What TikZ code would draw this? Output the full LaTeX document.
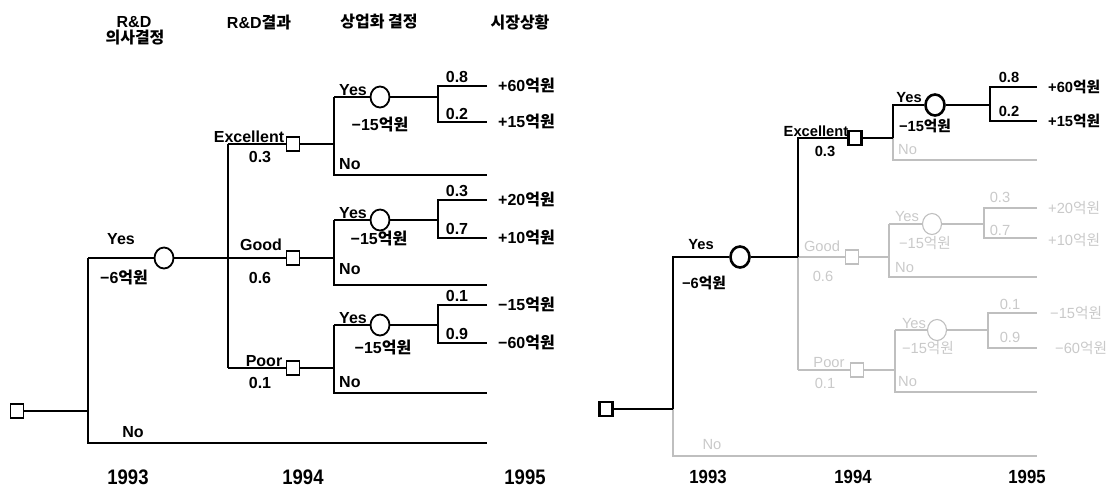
\documentclass[tikz,border=0pt]{standalone}
\usepackage{fontspec}
\setmainfont{Liberation Sans}
\newfontfamily\kr{Noto Sans CJK KR}
\newfontfamily\yrfont{Liberation Sans}[FakeStretch=0.88]
\usetikzlibrary{shapes.geometric}
\newcommand{\K}[1]{{\kr #1}}
\begin{document}
\begin{tikzpicture}[x=1pt,y=-1pt,
  lab/.style={inner sep=0pt, font=\fontsize{16}{18}\selectfont\bfseries},
  rlab/.style={inner sep=0pt, font=\fontsize{14.7}{17}\selectfont\bfseries},
  glab/.style={inner sep=0pt, font=\fontsize{14.7}{17}\selectfont, text=gray!42},
  yr/.style={inner sep=0pt, font=\yrfont\fontsize{21}{23}\selectfont\bfseries},
  ryr/.style={inner sep=0pt, font=\yrfont\fontsize{19}{21}\selectfont\bfseries},
  dsq/.style={draw, rectangle, minimum width=13pt, minimum height=14pt, inner sep=0pt, line width=1.5pt},
  chc/.style={draw, ellipse, minimum width=19pt, minimum height=21pt, inner sep=0pt, line width=1.8pt},
  br/.style={line width=2.1pt},
  hb/.style={line width=2.9pt},
  gb/.style={line width=1.1pt, draw=gray!50},
  hsq/.style={dsq, line width=2.5pt},
  gsq/.style={dsq, line width=1.1pt, draw=gray!50},
  hch/.style={chc, line width=2.6pt},
  gch/.style={chc, line width=1.1pt, draw=gray!50},
]
\useasboundingbox (0,0) rectangle (1108,490);

%%%%%%%%%%%%%%%% LEFT TREE %%%%%%%%%%%%%%%%
% headers
\node[lab] (h1a) at (134,22) {R\&D};
\node[lab] (h1b) at (135,38) {\K{의사결정}};
\node[lab] (h2) at (259,22) {R\&D\K{결과}};
\node[lab] (h3) at (379,22) {\K{상업화 결정}};
\node[lab] (h4) at (520,22) {\K{시장상황}};
% years
\node[yr] (y1) at (128,477) {1993};
\node[yr] (y2) at (303,477) {1994};
\node[yr] (y3) at (525,477) {1995};

% root
\node[dsq] (s0) at (17,411) {};
\coordinate (j0) at (88,411);
\coordinate (j0y) at (88,258);
\coordinate (j0n) at (88,443);
\coordinate (e0n) at (487,443);
\node[chc] (c1) at (164,258) {};
\coordinate (j1) at (228,258);
\coordinate (j1e) at (228,144);
\coordinate (j1p) at (228,368);
\draw[br] (s0) -- (j0);
\draw[br] (j0y) -- (j0n) -- (e0n);
\draw[br] (j0y) -- (c1) -- (j1);
\draw[br] (j1e) -- (j1p);
\node[lab] (lyes0) at (121,239) {Yes};
\node[lab] (lc0) at (124,278) {−6\K{억원}};
\node[lab] (lno0) at (133,432) {No};

% Excellent
\node[dsq] (s1) at (293,144) {};
\coordinate (j2) at (334,144);
\coordinate (j2y) at (334,97);
\coordinate (j2n) at (334,175);
\coordinate (e2n) at (487,175);
\node[chc] (c2) at (380,97) {};
\coordinate (j3) at (438,97);
\coordinate (j3a) at (438,86);
\coordinate (j3b) at (438,122);
\coordinate (e3a) at (487,86);
\coordinate (e3b) at (487,122);
\draw[br] (j1e) -- (s1) -- (j2);
\draw[br] (j2y) -- (j2n) -- (e2n);
\draw[br] (j2y) -- (c2) -- (j3);
\draw[br] (e3a) -- (j3a) -- (j3b) -- (e3b);
\node[lab, anchor=base] (lex) at (249,142) {Excellent};
\node[lab] (pex) at (260,157) {0.3};
\node[lab, anchor=base] (ly1) at (353,95) {Yes};
\node[lab] (lc1) at (380,125) {−15\K{억원}};
\node[lab, anchor=west] (ln1) at (339,164) {No};
\node[lab] (p11) at (457,77) {0.8};
\node[lab] (p12) at (457,114) {0.2};
\node[lab, anchor=west] (o11) at (498,86) {+60\K{억원}};
\node[lab, anchor=west] (o12) at (498,122) {+15\K{억원}};

% Good
\node[dsq] (s2) at (293,258) {};
\coordinate (j4) at (334,258);
\coordinate (j4y) at (334,220);
\coordinate (j4n) at (334,285);
\coordinate (e4n) at (487,285);
\node[chc] (c3) at (380,220) {};
\coordinate (j5) at (438,220);
\coordinate (j5a) at (438,200);
\coordinate (j5b) at (438,238);
\coordinate (e5a) at (487,200);
\coordinate (e5b) at (487,238);
\draw[br] (j1) -- (s2) -- (j4);
\draw[br] (j4y) -- (j4n) -- (e4n);
\draw[br] (j4y) -- (c3) -- (j5);
\draw[br] (e5a) -- (j5a) -- (j5b) -- (e5b);
\node[lab] (lgd) at (261,245) {Good};
\node[lab] (pgd) at (260,278) {0.6};
\node[lab, anchor=base] (ly2) at (353,218) {Yes};
\node[lab] (lc2) at (379,239) {−15\K{억원}};
\node[lab, anchor=west] (ln2) at (339,269) {No};
\node[lab] (p21) at (457,191) {0.3};
\node[lab] (p22) at (457,229) {0.7};
\node[lab, anchor=west] (o21) at (498,200) {+20\K{억원}};
\node[lab, anchor=west] (o22) at (498,238) {+10\K{억원}};

% Poor
\node[dsq] (s3) at (293,368) {};
\coordinate (j6) at (334,368);
\coordinate (j6y) at (334,325);
\coordinate (j6n) at (334,393);
\coordinate (e6n) at (487,393);
\node[chc] (c4) at (380,325) {};
\coordinate (j7) at (438,325);
\coordinate (j7a) at (438,305);
\coordinate (j7b) at (438,343);
\coordinate (e7a) at (487,305);
\coordinate (e7b) at (487,343);
\draw[br] (j1p) -- (s3) -- (j6);
\draw[br] (j6y) -- (j6n) -- (e6n);
\draw[br] (j6y) -- (c4) -- (j7);
\draw[br] (e7a) -- (j7a) -- (j7b) -- (e7b);
\node[lab, anchor=base] (lpr) at (264,366) {Poor};
\node[lab] (ppr) at (260,383) {0.1};
\node[lab, anchor=base] (ly3) at (353,323) {Yes};
\node[lab] (lc3) at (383,348) {−15\K{억원}};
\node[lab, anchor=west] (ln3) at (339,382) {No};
\node[lab] (p31) at (457,296) {0.1};
\node[lab] (p32) at (457,334) {0.9};
\node[lab, anchor=west] (o31) at (498,305) {−15\K{억원}};
\node[lab, anchor=west] (o32) at (498,343) {−60\K{억원}};

%%%%%%%%%%%%%%%% RIGHT TREE %%%%%%%%%%%%%%%%
\node[ryr] (ry1) at (708,477) {1993};
\node[ryr] (ry2) at (853,477) {1994};
\node[ryr] (ry3) at (1027,477) {1995};

% gray parts first
\coordinate (rj0) at (673,409);
\coordinate (rj0y) at (673,257);
\coordinate (rj0n) at (673,456);
\coordinate (re0n) at (1037,456);
\coordinate (rj1) at (798,257);
\coordinate (rj1e) at (798,138);
\coordinate (rj1p) at (798,370);
\coordinate (rj2) at (893,138);
\coordinate (rj2y) at (893,105);
\coordinate (rj2n) at (893,160);
\coordinate (re2n) at (1037,160);
\draw[gb] (rj0) -- (rj0n) -- (re0n);
\draw[gb] (rj1) -- (rj1p);
\draw[gb] (rj2) -- (rj2n) -- (re2n);

% Good (gray)
\node[gsq] (rs2) at (852,257) {};
\coordinate (rj4) at (889,257);
\coordinate (rj4y) at (889,224);
\coordinate (rj4n) at (889,277);
\coordinate (re4n) at (1037,277);
\node[gch] (rc3) at (932,224) {};
\coordinate (rj5) at (984,224);
\coordinate (rj5a) at (984,208);
\coordinate (rj5b) at (984,238);
\coordinate (re5a) at (1037,208);
\coordinate (re5b) at (1037,238);
\draw[gb] (rj1) -- (rs2) -- (rj4);
\draw[gb] (rj4y) -- (rj4n) -- (re4n);
\draw[gb] (rj4y) -- (rc3) -- (rj5);
\draw[gb] (re5a) -- (rj5a) -- (rj5b) -- (re5b);
\node[glab] (rlgd) at (822,246) {Good};
\node[glab] (rpgd) at (823,276) {0.6};
\node[glab, anchor=base] (rly2) at (907,221) {Yes};
\node[glab] (rlc2) at (925,243) {−15\K{억원}};
\node[glab, anchor=west] (rln2) at (895,268) {No};
\node[glab] (rp21) at (1000,197) {0.3};
\node[glab] (rp22) at (1000,230) {0.7};
\node[glab, anchor=west] (ro21) at (1048,208) {+20\K{억원}};
\node[glab, anchor=west] (ro22) at (1048,240) {+10\K{억원}};

% Poor (gray)
\node[gsq] (rs3) at (857,370) {};
\coordinate (rj6) at (895,370);
\coordinate (rj6y) at (895,330);
\coordinate (rj6n) at (895,392);
\coordinate (re6n) at (1037,392);
\node[gch] (rc4) at (937,330) {};
\coordinate (rj7) at (988,330);
\coordinate (rj7a) at (988,313);
\coordinate (rj7b) at (988,348);
\coordinate (re7a) at (1037,313);
\coordinate (re7b) at (1037,348);
\draw[gb] (rj1p) -- (rs3) -- (rj6);
\draw[gb] (rj6y) -- (rj6n) -- (re6n);
\draw[gb] (rj6y) -- (rc4) -- (rj7);
\draw[gb] (re7a) -- (rj7a) -- (rj7b) -- (re7b);
\node[glab, anchor=base] (rlpr) at (829,367) {Poor};
\node[glab] (rppr) at (825,383) {0.1};
\node[glab, anchor=base] (rly3) at (914,328) {Yes};
\node[glab] (rlc3) at (928,348) {−15\K{억원}};
\node[glab, anchor=west] (rln3) at (898,382) {No};
\node[glab] (rp31) at (1010,304) {0.1};
\node[glab] (rp32) at (1010,337) {0.9};
\node[glab, anchor=west] (ro31) at (1050,313) {−15\K{억원}};
\node[glab, anchor=west] (ro32) at (1055,348) {−60\K{억원}};
\node[glab] (rlno0) at (712,445) {No};
\node[glab, anchor=west] (rln1) at (898,150) {No};

% highlighted (black) path
\node[hsq] (rs0) at (606,409) {};
\node[hch] (rc1) at (740,257) {};
\node[hsq] (rs1) at (855,138) {};
\node[hch] (rc2) at (935,105) {};
\coordinate (rj3) at (990,105);
\coordinate (rj3a) at (990,87);
\coordinate (rj3b) at (990,121);
\coordinate (re3a) at (1037,87);
\coordinate (re3b) at (1037,121);
\draw[hb] (rs0) -- (rj0);
\draw[hb] (rj0) -- (rj0y) -- (rc1) -- (rj1);
\draw[hb] (rj1) -- (rj1e) -- (rs1) -- (rj2);
\draw[hb] (rj2) -- (rj2y) -- (rc2) -- (rj3);
\draw[hb] (re3a) -- (rj3a) -- (rj3b) -- (re3b);
\node[rlab] (rlyes0) at (701,245) {Yes};
\node[rlab] (rlc0) at (704,283) {−6\K{억원}};
\node[rlab, anchor=base] (rlex) at (816,136) {Excellent};
\node[rlab] (rpex) at (825,151) {0.3};
\node[rlab, anchor=base] (rly1) at (909,102) {Yes};
\node[rlab] (rlc1) at (925,126) {−15\K{억원}};
\node[rlab] (rp11) at (1009,77) {0.8};
\node[rlab] (rp12) at (1009,111) {0.2};
\node[rlab, anchor=west] (ro11) at (1048,87) {+60\K{억원}};
\node[rlab, anchor=west] (ro12) at (1048,121) {+15\K{억원}};
\end{tikzpicture}
\end{document}
